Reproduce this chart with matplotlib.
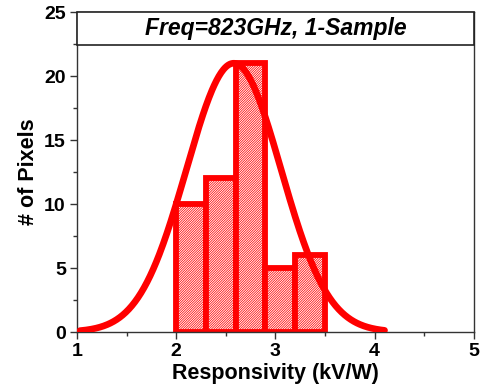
import numpy as np
import matplotlib
matplotlib.use("Agg")
import matplotlib.pyplot as plt
from matplotlib.patches import Rectangle

# Histogram data
bin_left = [2.0, 2.3, 2.6, 2.9, 3.2]
bin_width = 0.3
counts = [10, 12, 21, 5, 6]

# Gaussian fit parameters
fit_center = 2.58
fit_sigma = 0.476
fit_peak = 21.0
fit_xmin, fit_xmax = 1.03, 4.1

x_ticks = [1, 2, 3, 4, 5]
y_ticks = [0, 5, 10, 15, 20, 25]
title_text = "Freq=823GHz, 1-Sample"

plt.rcParams['font.family'] = ['Liberation Sans', 'DejaVu Sans']
plt.rcParams['hatch.color'] = 'red'
plt.rcParams['hatch.linewidth'] = 0.55

fig = plt.figure(figsize=(4.84, 3.89), dpi=100)
ax = fig.add_axes([0.159, 0.1465, 0.820, 0.8225])

ax.bar(bin_left, counts, width=bin_width, align='edge', facecolor='white',
       edgecolor='red', linewidth=4.2, hatch='//////////////', zorder=2)

xs = np.linspace(fit_xmin, fit_xmax, 400)
ys = fit_peak * np.exp(-(xs - fit_center) ** 2 / (2 * fit_sigma ** 2))
ax.plot(xs, ys, color='red', linewidth=4.8, solid_capstyle='round', zorder=3)

ax.set_xlim(1, 5)
ax.set_ylim(0, 25)
ax.set_xticks(x_ticks)
ax.set_yticks(y_ticks)
ax.set_xticks(np.arange(1.5, 5, 1.0), minor=True)
ax.set_yticks(np.arange(2.5, 25, 5.0), minor=True)
ax.tick_params(which='major', direction='out', length=5, width=1, colors='#333333',
               labelsize=14, labelcolor='black', pad=3)
ax.tick_params(which='minor', direction='out', length=3, width=1, colors='#333333')
for lab in ax.get_xticklabels() + ax.get_yticklabels():
    lab.set_fontweight('bold')
for s in ax.spines.values():
    s.set_color('#333333')
    s.set_linewidth(1.0)

ax.set_xlabel('Responsivity (kV/W)', fontsize=15.5, fontweight='bold', labelpad=2)
ax.set_ylabel('# of Pixels', fontsize=15.5, fontweight='bold', labelpad=4)

# Title box inside axes
box = Rectangle((1, 22.4), 4, 2.6, facecolor='white', edgecolor='#222222',
                linewidth=1.2, zorder=4, clip_on=False)
ax.add_patch(box)
ax.text(3, 23.7, title_text, ha='center', va='center', fontsize=16.5,
        fontweight='bold', fontstyle='italic', zorder=5)

fig.savefig('out.png', dpi=100)
